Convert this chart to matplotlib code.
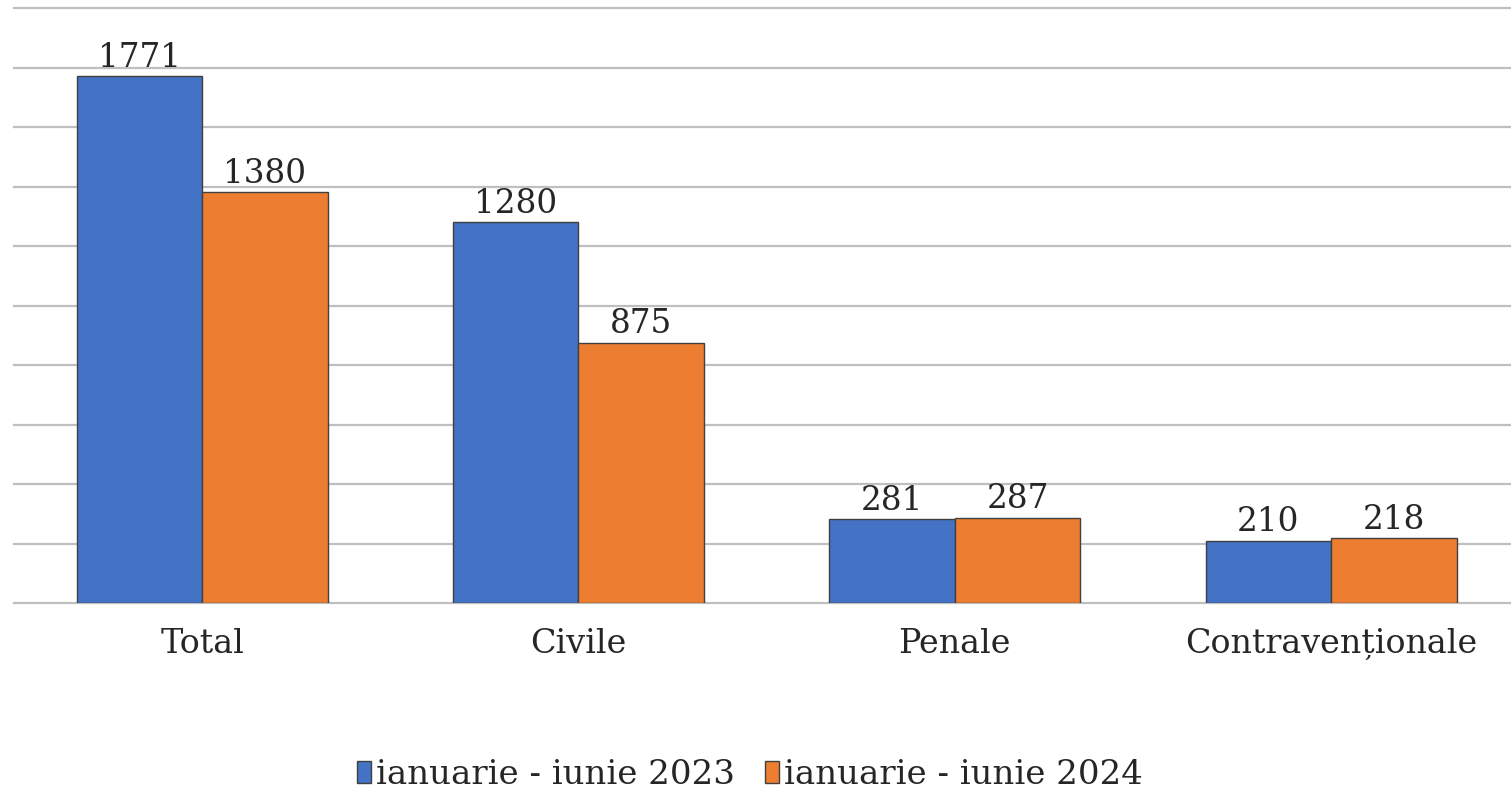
import matplotlib
matplotlib.use("Agg")
import matplotlib.pyplot as plt
import numpy as np

categories = ["Total", "Civile", "Penale", "Contravenționale"]
series_names = ["ianuarie - iunie 2023", "ianuarie - iunie 2024"]
values_2023 = [1771, 1280, 281, 210]
values_2024 = [1380, 875, 287, 218]
colors = ["#4472C4", "#ED7D31"]

plt.rcParams['font.family'] = ['DejaVu Serif']

fig = plt.figure(figsize=(15.11, 7.91), dpi=100)
ax = fig.add_axes([14/1511, 1 - 603/791, 1 - 14/1511, (603 - 8)/791])

x = np.arange(len(categories))
w = 1/3
for i, (vals, name, c) in enumerate(zip([values_2023, values_2024], series_names, colors)):
    pos = x + (i - 0.5) * w
    bars = ax.bar(pos, vals, width=w, color=c, edgecolor="#404040", linewidth=1.0,
                  label=name, zorder=3)
    for b, v in zip(bars, vals):
        ax.text(b.get_x() + b.get_width()/2, v + 8, str(v), ha="center", va="bottom",
                fontsize=23.5, color="#262626", zorder=4)

ax.set_ylim(0, 2000)
ax.set_xlim(-0.5, 3.478)
ax.set_yticks(np.arange(0, 2001, 200))
ax.yaxis.grid(True, color="#bfbfbf", linewidth=1.6, zorder=0)
for gl in ax.get_ygridlines():
    gl.set_clip_on(False)
ax.tick_params(axis="y", left=False, labelleft=False)
ax.tick_params(axis="x", length=0, pad=18, labelsize=24, labelcolor="#262626")
ax.set_xticks(x)
ax.set_xticklabels(categories)
for s in ax.spines.values():
    s.set_visible(False)

leg = fig.legend(loc="center", bbox_to_anchor=(750/1511, 1 - 775/791), ncol=2, frameon=False,
                 fontsize=24.5, handlelength=0.4, handleheight=0.6, handletextpad=0.15,
                 columnspacing=0.9, labelcolor="#262626")

fig.savefig("out.png", dpi=100)
